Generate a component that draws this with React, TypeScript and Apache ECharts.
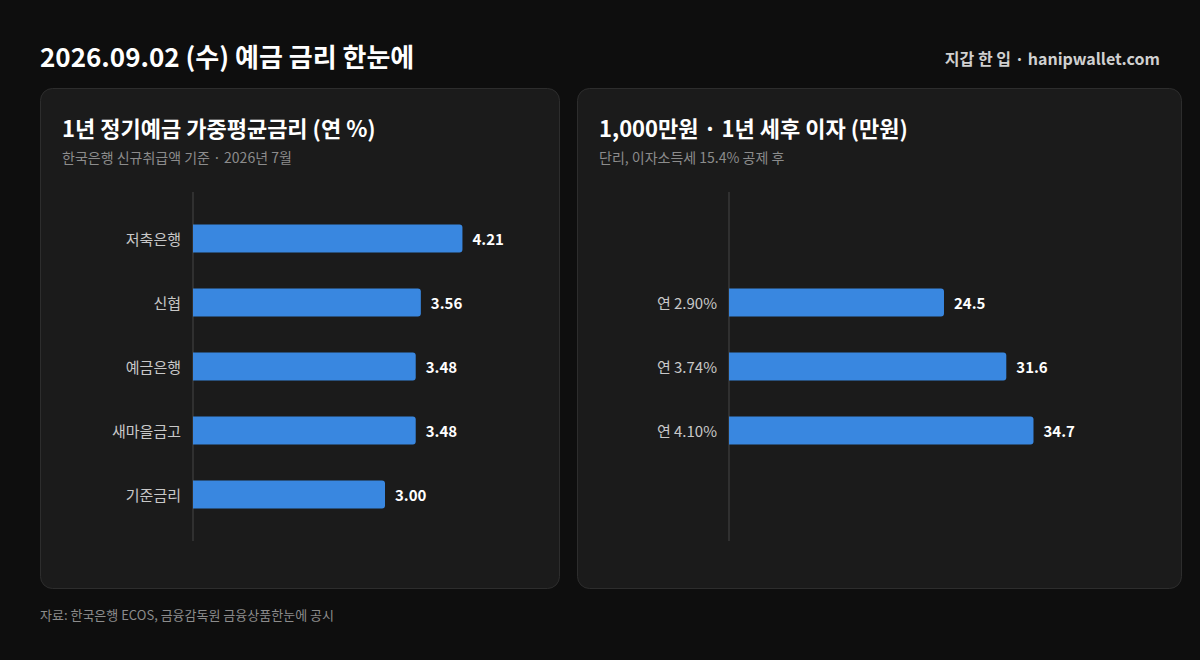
import { useRef, useEffect } from 'react';
import * as echarts from 'echarts';

// 1년 정기예금 가중평균금리 (연 %)
const bankTypes = ['저축은행', '신협', '예금은행', '새마을금고', '기준금리'];
const bankRates = [4.21, 3.56, 3.48, 3.48, 3.0];

// 1,000만원 · 1년 세후 이자 (만원)
const rateLabels = ['연 2.90%', '연 3.74%', '연 4.10%'];
const interestAfterTax = [24.5, 31.6, 34.7];

const FONT = '"Noto Sans CJK KR", "Noto Sans", sans-serif';
const BAR = '#3987e0';
const BAND = 64;
const AXIS_TOP = 192;
const AXIS_H = 349;

function gridFor(left: number, width: number, n: number) {
  const height = n * BAND;
  return { left, width, top: AXIS_TOP + (AXIS_H - height) / 2, height, containLabel: false };
}

function text(x: number, y: number, t: string, size: number, color: string, weight: string | number = 'normal', align = 'left') {
  return {
    type: 'text', x, y, silent: true,
    style: { text: t, fill: color, fontSize: size, fontWeight: weight, fontFamily: FONT, align, verticalAlign: 'middle' },
  };
}

function panel(x: number, width: number) {
  return {
    type: 'rect', silent: true, z: -1,
    shape: { x: x + 0.5, y: 88.5, width, height: 500, r: 12 },
    style: { fill: '#1b1b1b', stroke: '#2d2d2d', lineWidth: 1 },
  };
}

function axisLine(x: number) {
  return {
    type: 'line', silent: true,
    shape: { x1: x, y1: AXIS_TOP, x2: x, y2: AXIS_TOP + AXIS_H },
    style: { stroke: '#303030', lineWidth: 2 },
  };
}

function catAxis(gridIndex: number, data: string[]) {
  return {
    type: 'category' as const, gridIndex, data, inverse: true,
    axisLine: { show: false }, axisTick: { show: false }, splitLine: { show: false },
    axisLabel: { color: '#c8c8c8', fontSize: 15, fontFamily: FONT, margin: 12 },
  };
}

function valAxis(gridIndex: number, max: number) {
  return { type: 'value' as const, gridIndex, min: 0, max, show: false, splitLine: { show: false } };
}

function barSeries(idx: number, data: number[], digits: number) {
  return {
    type: 'bar', xAxisIndex: idx, yAxisIndex: idx, data, barWidth: 28,
    itemStyle: { color: BAR, borderRadius: [0, 3, 3, 0] },
    label: {
      show: true, position: 'right', distance: 10, color: '#ffffff', fontSize: 15, fontWeight: 'bold', fontFamily: FONT,
      formatter: (p: any) => Number(p.value).toFixed(digits),
    },
  };
}

export default function App() {
  const ref = useRef<HTMLDivElement>(null);

  useEffect(() => {
    if (!ref.current) return;
    const chart = echarts.init(ref.current, undefined, { renderer: 'svg' });
    chart.setOption({
      animation: false,
      backgroundColor: '#0e0e0e',
      textStyle: { fontFamily: FONT },
      grid: [gridFor(193, 320, bankTypes.length), gridFor(729, 351, rateLabels.length)],
      xAxis: [valAxis(0, 5), valAxis(1, 40)],
      yAxis: [catAxis(0, bankTypes), catAxis(1, rateLabels)],
      series: [barSeries(0, bankRates, 2), barSeries(1, interestAfterTax, 1)],
      graphic: [
        panel(40, 519),
        panel(577, 604),
        axisLine(193),
        axisLine(729),
        text(40, 55, '2026.09.02 (수) 예금 금리 한눈에', 26, '#ffffff', 'bold'),
        text(1160, 58, '지갑 한 입 · hanipwallet.com', 16, '#d0d0d0', 'bold', 'right'),
        text(62, 127, '1년 정기예금 가중평균금리 (연 %)', 22, '#ffffff', 'bold'),
        text(62, 157, '한국은행 신규취급액 기준 · 2026년 7월', 14, '#8c8c8c'),
        text(599, 127, '1,000만원 · 1년 세후 이자 (만원)', 22, '#ffffff', 'bold'),
        text(599, 157, '단리, 이자소득세 15.4% 공제 후', 14, '#8c8c8c'),
        text(40, 614, '자료: 한국은행 ECOS, 금융감독원 금융상품한눈에 공시', 13, '#8c8c8c'),
      ],
    });
    return () => chart.dispose();
  }, []);

  return <div ref={ref} style={{ position: 'fixed', left: 0, top: 0, width: 1200, height: 660 }} />;
}
